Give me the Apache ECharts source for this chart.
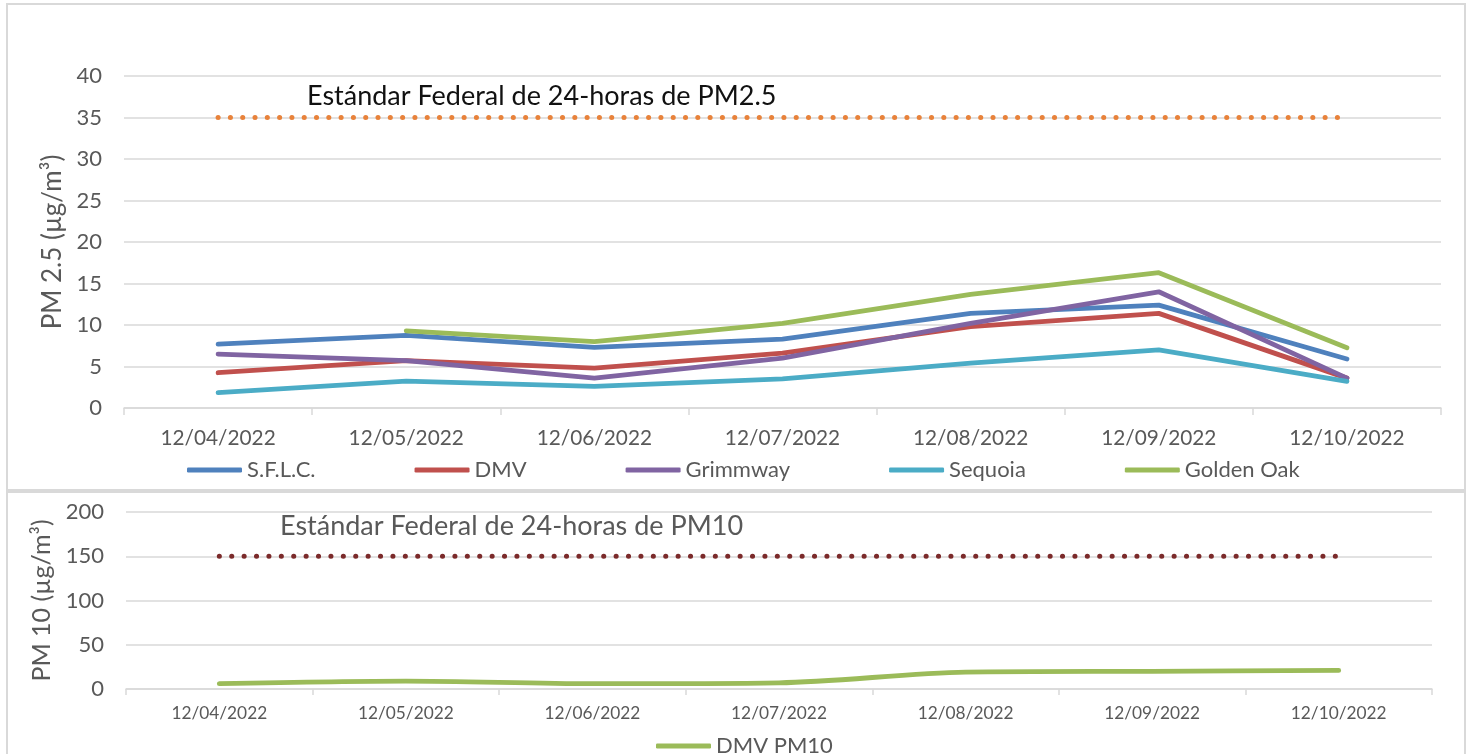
<!DOCTYPE html>
<html><head><meta charset="utf-8">
<script src="https://cdn.jsdelivr.net/npm/echarts@6/dist/echarts.min.js"></script>
<style>html,body{margin:0;padding:0;background:#fff}#c{width:1472px;height:754px}</style>
</head><body><div id="c"></div>
<script>
const categories = ['12/04/2022','12/05/2022','12/06/2022','12/07/2022','12/08/2022','12/09/2022','12/10/2022'];
const sflc      = [7.7, 8.75, 7.3, 8.3, 11.4, 12.4, 5.9];
const dmv       = [4.25, 5.7, 4.8, 6.6, 9.8, 11.4, 3.6];
const grimmway  = [6.5, 5.7, 3.6, 6.0, 10.2, 14.0, 3.6];
const sequoia   = [1.85, 3.25, 2.6, 3.5, 5.4, 7.0, 3.2];
const goldenOak = [null, 9.3, 8.0, 10.2, 13.7, 16.3, 7.25];
const dmvPm10   = [6, 9, 6, 7, 19, 20, 21];
const pm25Standard = 35;
const pm10Standard = 150;
const pm25Ticks = {min: 0, max: 40, interval: 5};
const pm10Ticks = {min: 0, max: 200, interval: 50};

const FONT = 'Lato';
const GRID_C = '#d9d9d9';
const TXT = '#595959';

function lineSeries(name, data, color, xi, yi, extra) {
  return Object.assign({
    name, type: 'line', data, xAxisIndex: xi, yAxisIndex: yi,
    symbol: 'none', showSymbol: false, connectNulls: false,
    lineStyle: {color, width: 4.8, cap: 'round', join: 'round'},
    itemStyle: {color}, z: 3, animation: false
  }, extra || {});
}

const chart = echarts.init(document.getElementById('c'), null, {renderer: 'canvas'});
chart.setOption({
  animation: false,
  textStyle: {fontFamily: FONT},
  grid: [
    {left: 124, right: 31, top: 76, bottom: 346},
    {left: 126, right: 40, top: 512, bottom: 65}
  ],
  xAxis: [
    {type: 'category', gridIndex: 0, data: categories, boundaryGap: true,
     axisLine: {lineStyle: {color: GRID_C, width: 1.5}},
     axisTick: {show: true, length: 7, lineStyle: {color: GRID_C, width: 1.5}},
     axisLabel: {color: TXT, fontSize: 20.8, margin: 20, fontFamily: FONT}},
    {type: 'category', gridIndex: 1, data: categories, boundaryGap: true,
     axisLine: {lineStyle: {color: GRID_C, width: 1.5}},
     axisTick: {show: true, length: 6, lineStyle: {color: GRID_C, width: 1.5}},
     axisLabel: {color: TXT, fontSize: 17.3, margin: 16, fontFamily: FONT}}
  ],
  yAxis: [
    {type: 'value', gridIndex: 0, min: pm25Ticks.min, max: pm25Ticks.max, interval: pm25Ticks.interval,
     name: 'PM 2.5 (µg/m³)', nameLocation: 'middle', nameRotate: 90, nameGap: 54,
     nameTextStyle: {color: TXT, fontSize: 26, fontFamily: FONT},
     axisLine: {show: false}, axisTick: {show: false},
     axisLabel: {color: TXT, fontSize: 22, margin: 22, fontFamily: FONT},
     splitLine: {lineStyle: {color: GRID_C, width: 1.5}}},
    {type: 'value', gridIndex: 1, min: pm10Ticks.min, max: pm10Ticks.max, interval: pm10Ticks.interval,
     name: 'PM 10 (µg/m³)', nameLocation: 'middle', nameRotate: 90, nameGap: 68,
     nameTextStyle: {color: TXT, fontSize: 25, fontFamily: FONT},
     axisLine: {show: false}, axisTick: {show: false},
     axisLabel: {color: TXT, fontSize: 22, margin: 22, fontFamily: FONT},
     splitLine: {lineStyle: {color: GRID_C, width: 1.5}}}
  ],
  legend: [
    {data: ['S.F.L.C.', 'DMV', 'Grimmway', 'Sequoia', 'Golden Oak'],
     left: 182, top: 454, itemWidth: 55, itemHeight: 5, itemGap: 99, icon: 'roundRect',
     textStyle: {color: TXT, fontSize: 22, fontFamily: FONT}},
    {data: ['DMV PM10'], left: 651, top: 730, itemWidth: 55, itemHeight: 5, icon: 'roundRect',
     textStyle: {color: TXT, fontSize: 22, fontFamily: FONT}}
  ],
  graphic: [
    {type: 'rect', shape: {x: 7, y: 4, width: 1458, height: 486}, style: {fill: 'none', stroke: GRID_C, lineWidth: 2}, z: -1, silent: true},
    {type: 'rect', shape: {x: 7, y: 492, width: 1458, height: 280}, style: {fill: 'none', stroke: GRID_C, lineWidth: 2}, z: -1, silent: true},
    {type: 'text', left: 307, top: 83, style: {text: 'Estándar Federal de 24-horas de PM2.5', fill: '#111', font: '27px Lato'}, z: 10},
    {type: 'text', left: 280, top: 513, style: {text: 'Estándar Federal de 24-horas de PM10', fill: TXT, font: '27px Lato'}, z: 10}
  ],
  series: [
    lineSeries('S.F.L.C.', sflc, '#4F81BD', 0, 0),
    lineSeries('DMV', dmv, '#C0504D', 0, 0),
    lineSeries('Grimmway', grimmway, '#8064A2', 0, 0),
    lineSeries('Sequoia', sequoia, '#4BACC6', 0, 0),
    lineSeries('Golden Oak', goldenOak, '#9BBB59', 0, 0),
    lineSeries('Estándar PM2.5', categories.map(() => pm25Standard), '#E8823A', 0, 0,
      {lineStyle: {color: '#E8823A', width: 5, type: [0.1, 12.2], cap: 'round'}, z: 2}),
    lineSeries('DMV PM10', dmvPm10, '#9BBB59', 1, 1, {smooth: 0.3}),
    lineSeries('Estándar PM10', categories.map(() => pm10Standard), '#7B2A2A', 1, 1,
      {lineStyle: {color: '#7B2A2A', width: 5, type: [0.1, 12.3], cap: 'round'}, z: 2})
  ]
});
</script></body></html>
